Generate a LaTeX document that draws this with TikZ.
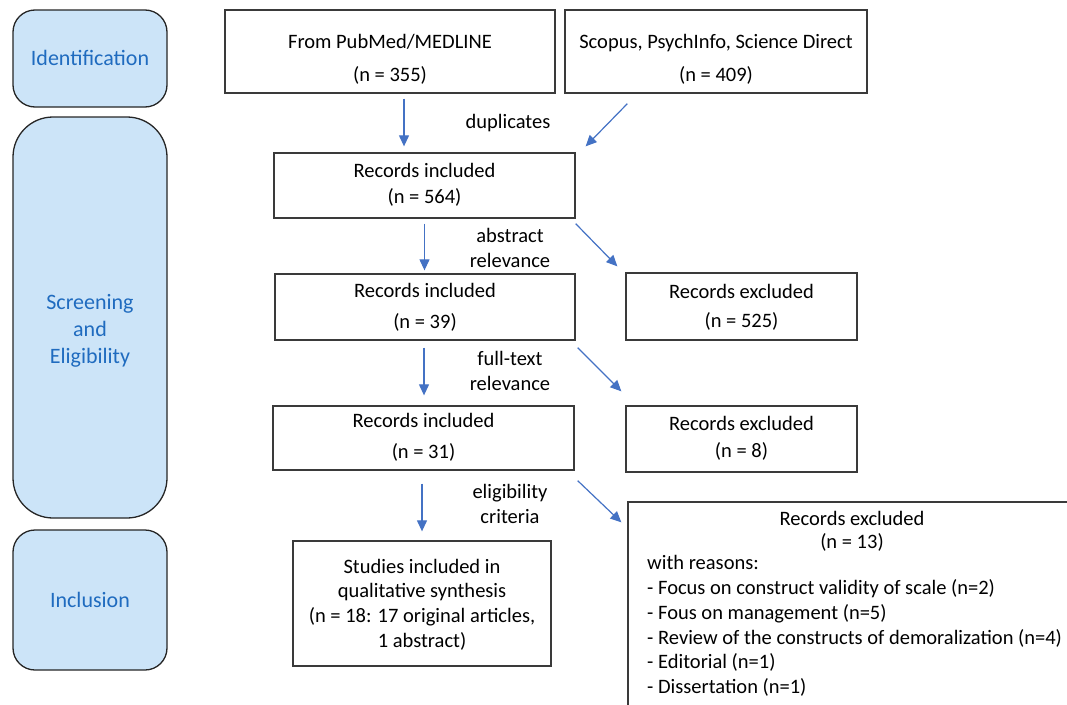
\documentclass[tikz,border=0pt]{standalone}
\usepackage{fontspec}
\setmainfont{Carlito}
\usetikzlibrary{arrows.meta,calc}
\definecolor{arrowblue}{HTML}{4472C4}
\definecolor{stagefill}{HTML}{CCE4F8}
\definecolor{stagetext}{HTML}{1F6BBF}
\definecolor{boxline}{HTML}{3A3A3A}
\begin{document}
\begin{tikzpicture}[x=1pt,y=-1pt,
  box/.style={draw=boxline, line width=1.3pt, inner sep=0pt},
  stagebox/.style={draw=black!85, line width=1.3pt, fill=stagefill, inner sep=0pt},
  txt/.style={font=\fontsize{20.5}{24}\selectfont, inner sep=0pt, text height=14pt, text depth=4pt},
  stagetxt/.style={font=\fontsize{22}{26}\selectfont, text=stagetext, inner sep=0pt, text height=15pt, text depth=4pt},
  arr/.style={draw=arrowblue, line width=1.2pt, -{Triangle[length=11pt,width=10pt]}}]
\useasboundingbox (0,0) rectangle (1067,704);
\clip (0,0) rectangle (1067,704);

% stage boxes
\node[stagebox, rounded corners=22pt, minimum width=154, minimum height=97] (sid) at (90,58.5) {};
\node[stagebox, rounded corners=40pt, minimum width=154, minimum height=401] (sse) at (90,317.5) {};
\node[stagebox, rounded corners=22pt, minimum width=154, minimum height=140] (sinc) at (90,600) {};
\node[stagetxt] (tid) at (90,60) {Identification};
\node[stagetxt] (tse1) at (90,304) {Screening};
\node[stagetxt] (tse2) at (90,331) {and};
\node[stagetxt] (tse3) at (90,358) {Eligibility};
\node[stagetxt] (tinc) at (90,602) {Inclusion};

% main boxes
\node[box, minimum width=330, minimum height=83] (pub) at (390,51.5) {};
\node[box, minimum width=302, minimum height=83] (sco) at (716,51.5) {};
\node[box, minimum width=301, minimum height=65] (r564) at (424.5,185.5) {};
\node[box, minimum width=300, minimum height=66] (r39) at (425,307) {};
\node[box, minimum width=231, minimum height=67] (e525) at (741.5,306.5) {};
\node[box, minimum width=301, minimum height=64] (r31) at (423.5,438) {};
\node[box, minimum width=231, minimum height=66] (e8) at (741.5,439) {};
\node[box, minimum width=258, minimum height=125] (stud) at (422,603.5) {};
\node[box, minimum width=447, minimum height=210] (e13) at (851.5,607) {};

% box texts
\node[txt] (tpub1) at (390,43) {From PubMed/MEDLINE};
\node[txt] (tpub2) at (390,76) {(n = 355)};
\node[txt] (tsco1) at (716,43) {Scopus, PsychInfo, Science Direct};
\node[txt] (tsco2) at (716,76) {(n = 409)};
\node[txt] (t564a) at (424.5,172) {Records included};
\node[txt] (t564b) at (424.5,198) {(n = 564)};
\node[txt] (t39a) at (425,292) {Records included};
\node[txt] (t39b) at (425,323) {(n = 39)};
\node[txt] (t525a) at (741.5,293) {Records excluded};
\node[txt] (t525b) at (741.5,322) {(n = 525)};
\node[txt] (t31a) at (423.5,422) {Records included};
\node[txt] (t31b) at (423.5,453) {(n = 31)};
\node[txt] (t8a) at (741.5,425) {Records excluded};
\node[txt] (t8b) at (741.5,452) {(n = 8)};
\node[txt] (tst1) at (422,568) {Studies included in};
\node[txt] (tst2) at (422,592) {qualitative synthesis};
\node[txt] (tst3) at (422,617) {(n = 18: 17 original articles,};
\node[txt] (tst4) at (422,642) {1 abstract)};
\node[txt] (t13a) at (852,520) {Records excluded};
\node[txt] (t13b) at (852,543) {(n = 13)};
\node[txt, anchor=west] (t13c) at (647,564) {with reasons:};
\node[txt, anchor=west] (t13d) at (647,589) {- Focus on construct validity of scale (n=2)};
\node[txt, anchor=west] (t13e) at (647,614) {- Fous on management (n=5)};
\node[txt, anchor=west] (t13f) at (647,639) {- Review of the constructs of demoralization (n=4)};
\node[txt, anchor=west] (t13g) at (647,663) {- Editorial (n=1)};
\node[txt, anchor=west] (t13h) at (647,688) {- Dissertation (n=1)};

% arrow labels
\node[txt] (ldup) at (508,123) {duplicates};
\node[txt] (labs1) at (510,237) {abstract};
\node[txt] (labs2) at (510,262) {relevance};
\node[txt] (lft1) at (510,360) {full-text};
\node[txt] (lft2) at (510,385) {relevance};
\node[txt] (lel1) at (510,493) {eligibility};
\node[txt] (lel2) at (510,518) {criteria};

% arrows
\draw[arr] ($(pub.south)+(14,5)$) -- ($(r564.north)+(-20.5,-6)$);
\draw[arr] ($(sco.south west)+(63,10)$) -- ($(r564.north east)+(10,-6)$);
\draw[arr] ($(r564.south)+(0,5)$) -- ($(r39.north)+(-0.5,-3)$);
\draw[arr] ($(r564.south east)+(0,5)$) -- ($(e525.north west)+(-8,-6)$);
\draw[arr] ($(r39.south)+(-1,7)$) -- ($(r31.north)+(0.5,-10)$);
\draw[arr] ($(r39.south east)+(2,7)$) -- ($(e8.north west)+(-4,-14)$);
\draw[arr] ($(r31.south)+(-1.5,13)$) -- ($(stud.north)+(0,-9)$);
\draw[arr] ($(r31.south east)+(3,10)$) -- ($(e13.north west)+(-6,21)$);
\end{tikzpicture}
\end{document}
